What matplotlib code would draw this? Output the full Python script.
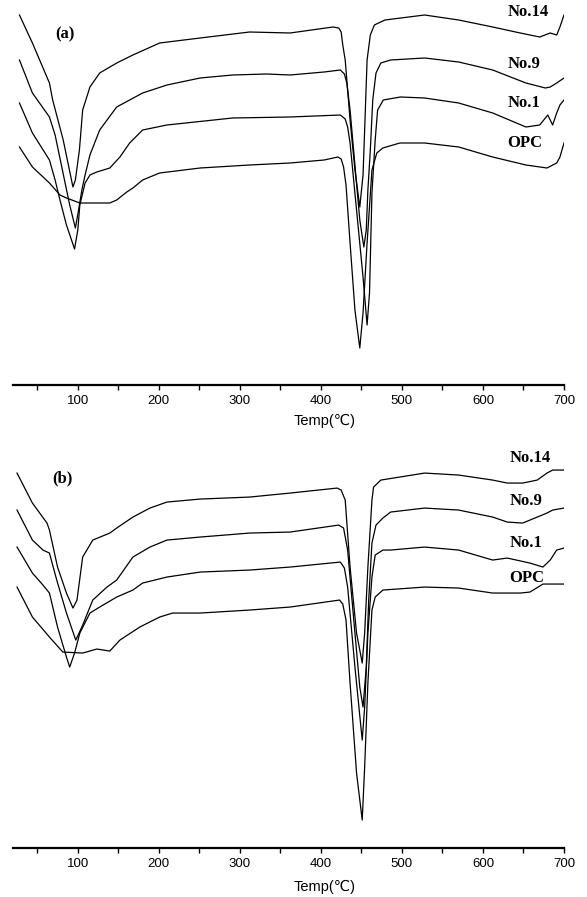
"""
DTA curves of OPC and modified cement pastes, panels (a) and (b).
"""

import matplotlib
matplotlib.use('Agg')
from matplotlib import pyplot as plt
from matplotlib.ticker import MultipleLocator

labels = ('No.14', 'No.9', 'No.1', 'OPC')

# panel (a): temperature (C) and DTA signal (a.u.)
a_no14_t = [28, 44, 65, 69, 82, 94, 97, 102, 106, 115, 127, 148, 168, 201, 251, 312,
            362, 415, 422, 425, 427, 430, 436, 442, 448, 452, 454, 457, 461, 466, 479, 528,
            570, 612, 646, 670, 683, 691, 695, 700]
a_no14_y = [37.0, 34.2, 30.2, 28.5, 24.5, 19.8, 20.5, 23.5, 27.5, 29.8, 31.2, 32.2, 33.0,
            34.2, 34.7, 35.3, 35.2, 35.8, 35.7, 35.3, 34.0, 32.5, 26.5, 21.5, 17.8, 21.0, 25.5,
            32.5, 35.0, 36.0, 36.5, 37.0, 36.5, 35.8, 35.2, 34.8, 35.2, 35.0, 35.8, 37.0]

a_no9_t = [28, 44, 65, 72, 81, 90, 97, 101, 105, 109, 115, 127, 148, 180, 210, 251, 291,
           333, 362, 404, 424, 429, 432, 436, 442, 448, 453, 456, 458, 461, 464, 468, 474, 486,
           528, 570, 612, 653, 677, 683, 691, 700]
a_no9_y = [32.5, 29.2, 26.8, 25.0, 21.5, 18.0, 15.7, 17.5, 19.5, 21.0, 23.0, 25.5, 27.8,
           29.2, 30.0, 30.7, 31.0, 31.1, 31.0, 31.3, 31.5, 31.1, 30.2, 27.5, 22.0, 16.5, 13.8,
           15.5, 19.5, 23.5, 28.5, 31.2, 32.2, 32.5, 32.7, 32.3, 31.5, 30.2, 29.7, 29.8,
           30.2, 30.7]

a_no1_t = [28, 44, 65, 72, 78, 86, 96, 100, 102.5, 109, 115, 123.5, 139.5, 152, 164, 180,
           210, 291, 362, 424, 430, 433, 436, 444, 452, 457, 460, 463, 467, 470, 477, 498, 528,
           570, 612, 653, 670, 680, 686, 691, 695, 700]
a_no1_y = [28.2, 25.2, 22.5, 20.5, 18.5, 16.0, 13.6, 15.5, 18.0, 20.2, 21.0, 21.3, 21.7,
           22.8, 24.2, 25.5, 26.0, 26.7, 26.8, 27.0, 26.6, 25.8, 24.2, 17.5, 10.8, 6.0, 9.2, 19.2,
           24.5, 27.5, 28.5, 28.8, 28.7, 28.2, 27.2, 25.8, 26.0, 27.0, 26.0, 27.2, 28.0, 28.5]

a_opc_t = [28, 44, 65, 78, 86, 102.5, 115, 139.5, 148, 160.5, 168, 180, 201, 251, 312, 362,
           404, 421, 425, 428, 431, 436, 442, 448, 452, 457, 463, 469, 476.5, 497.5, 528, 570, 612,
           653, 679, 691, 695, 700]
a_opc_y = [23.8, 21.8, 20.2, 19.0, 18.7, 18.2, 18.2, 18.2, 18.5, 19.3, 19.7, 20.5, 21.2,
           21.7, 22.0, 22.2, 22.5, 22.8, 22.6, 21.8, 20.0, 14.2, 7.5, 3.7, 7.2, 14.2, 21.5, 23.2,
           23.7, 24.2, 24.2, 23.8, 22.8, 22.0, 21.7, 22.2, 22.8, 24.2]

# panel (b)
b_no14_t = [25, 44, 62, 65, 75, 86, 94, 99, 106, 118.5, 139.5, 148, 168, 189, 210, 251, 312,
            362, 420, 425, 430, 436, 444, 451, 454, 458, 463, 465, 474, 528, 570, 612, 630, 649,
            667, 679, 686, 700]
b_no14_y = [37.5, 34.5, 32.5, 31.8, 28.1, 25.5, 24.0, 24.8, 29.1, 30.8, 31.5, 32.0, 33.1,
            34.0, 34.6, 34.9, 35.1, 35.5, 36.0, 35.8, 34.8, 28.1, 21.5, 18.5, 21.5, 28.1, 34.8,
            36.1, 36.8, 37.5, 37.3, 36.8, 36.5, 36.5, 36.8, 37.5, 37.8, 37.8]

b_no9_t = [25, 44, 57, 65, 74, 86, 97.5, 105, 118.5, 136, 148, 168, 189, 210, 251, 312, 362,
           422, 428, 433, 442, 448, 452, 456, 459, 463, 468, 476.5, 486, 528, 570, 612, 630,
           649, 667, 679, 686, 700]
b_no9_y = [33.8, 30.8, 29.8, 29.5, 26.8, 23.5, 20.8, 22.1, 24.8, 26.1, 26.8, 29.1, 30.1,
           30.8, 31.1, 31.5, 31.6, 32.3, 32.0, 29.8, 21.5, 16.1, 14.1, 18.1, 24.8, 30.5,
           32.3, 33.0, 33.6, 34.0, 33.8, 33.1, 32.6, 32.5, 33.1, 33.5, 33.8, 34.0]

b_no1_t = [25, 44, 57, 65, 75, 86, 90, 96, 102.5, 115, 127, 148, 168, 180, 210, 251, 312, 362,
           424, 429, 433, 442, 451, 454, 458, 463, 467, 476.5, 486, 528, 570, 612, 630, 658, 674,
           683, 691, 700]
b_no1_y = [30.1, 27.5, 26.3, 25.5, 22.1, 19.1, 18.1, 19.5, 21.5, 23.5, 24.1, 25.1, 25.8,
           26.5, 27.1, 27.6, 27.8, 28.1, 28.6, 28.0, 26.1, 18.1, 10.8, 14.1, 21.5, 27.1, 29.3,
           29.8, 29.8, 30.1, 29.8, 28.8, 29.0, 28.5, 28.1, 28.8, 29.8, 30.0]

b_opc_t = [25, 44, 65, 81.5, 106, 123.5, 139.5, 152, 176.5, 201, 217, 251, 312, 362,
           423, 427, 431, 436, 444, 451, 454, 458, 463, 467, 476.5, 528, 570, 612, 646, 658, 674, 700]
b_opc_y = [26.1, 23.1, 21.1, 19.6, 19.5, 19.9, 19.7, 20.8, 22.1, 23.1, 23.5, 23.5, 23.8, 24.1,
           24.8, 24.4, 22.8, 16.5, 7.5, 2.8, 8.1, 16.5, 23.8, 25.1, 25.8, 26.1, 26.0, 25.5, 25.5,
           25.6, 26.4, 26.4]

a_label_y = (37.3, 32.1, 28.2, 24.2)
b_label_y = (39.0, 34.7, 30.5, 27.0)

sans = ['Liberation Sans', 'DejaVu Sans']
serif = ['Liberation Serif', 'DejaVu Serif']


def panel(ax, curves, label_x, label_y, tag, tag_xy, ytop, xlabel_y):
    for t, y in curves:
        ax.plot(t, y, color='black', linewidth=0.9)
    for name, ly in zip(labels, label_y):
        ax.text(label_x, ly, name, family=serif, fontweight='bold', fontsize=12,
                ha='left', va='center')
    ax.text(tag_xy[0], tag_xy[1], tag, family=serif, fontweight='bold', fontsize=12,
            ha='left', va='center')
    ax.set_xlim(20, 700)
    ax.set_ylim(0, ytop)
    for side in ('top', 'left', 'right'):
        ax.spines[side].set_visible(False)
    ax.spines['bottom'].set_linewidth(1.6)
    ax.set_yticks([])
    ax.xaxis.set_major_locator(MultipleLocator(100))
    ax.xaxis.set_minor_locator(MultipleLocator(50))
    ax.tick_params(axis='x', which='both', direction='out', length=3.5, width=1)
    ax.set_xticks(range(100, 701, 100))
    for lab in ax.get_xticklabels():
        lab.set_family(sans)
        lab.set_fontsize(9.5)
    ax.set_xlabel('Temp(℃)', family=sans, fontsize=10.5)
    ax.xaxis.set_label_coords(0.565, xlabel_y)


fig = plt.figure(figsize=(5.87, 8.97), dpi=100)
ax_a = fig.add_axes([0.0221, 0.5708, 0.9387, 0.4292])
ax_b = fig.add_axes([0.0221, 0.0546, 0.9387, 0.4548])

panel(ax_a, [(a_no14_t, a_no14_y), (a_no9_t, a_no9_y), (a_no1_t, a_no1_y), (a_opc_t, a_opc_y)],
      630, a_label_y, '(a)', (72, 35.1), 38.5, -0.075)
panel(ax_b, [(b_no14_t, b_no14_y), (b_no9_t, b_no9_y), (b_no1_t, b_no1_y), (b_opc_t, b_opc_y)],
      633, b_label_y, '(b)', (69, 37.0), 40.8, -0.078)

fig.savefig('out.png', dpi=100)
